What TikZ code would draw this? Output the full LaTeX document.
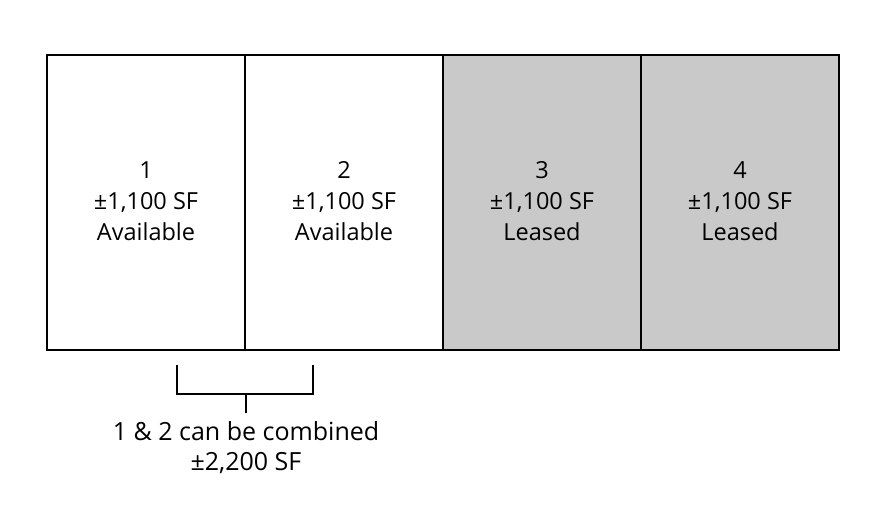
\documentclass[tikz,border=0pt]{standalone}
\usepackage{fontspec}
\setmainfont{Open Sans}
\definecolor{leasedgray}{RGB}{200,201,200}
\begin{document}
\begin{tikzpicture}[x=1pt,y=-1pt,
  unitbox/.style={draw=black,line width=1.4pt,minimum width=198pt,minimum height=295pt,inner sep=0pt,outer sep=0pt},
  unitlabel/.style={align=center,anchor=base,inner sep=0pt,font=\fontsize{23.5}{31.2}\selectfont},
  notelabel/.style={align=center,anchor=base,inner sep=0pt,font=\fontsize{25}{29.5}\selectfont},
  brk/.style={draw=black,line width=1.4pt},
]
\useasboundingbox (0,0) rectangle (886,514);
\node[unitbox,fill=white] (u1) at (146,202.5) {};
\node[unitbox,fill=white] (u2) at (344,202.5) {};
\node[unitbox,fill=leasedgray] (u3) at (542,202.5) {};
\node[unitbox,fill=leasedgray] (u4) at (740,202.5) {};
\node[unitlabel] (t1) at (146,240.7) {1\\±1,100 SF\\Available};
\node[unitlabel] (t2) at (344,240.7) {2\\±1,100 SF\\Available};
\node[unitlabel] (t3) at (542,240.7) {3\\±1,100 SF\\Leased};
\node[unitlabel] (t4) at (740,240.7) {4\\±1,100 SF\\Leased};
\coordinate (bl) at (177,365);
\coordinate (br) at (313,365);
\coordinate (bm) at (246,394);
\coordinate (bs) at (246,413);
\node[notelabel] (note) at (246,470) {1 \& 2 can be combined\\±2,200 SF};
\draw[brk] (bl) |- (bm) -| (br);
\draw[brk] (bm) -- (bs);
\end{tikzpicture}
\end{document}
